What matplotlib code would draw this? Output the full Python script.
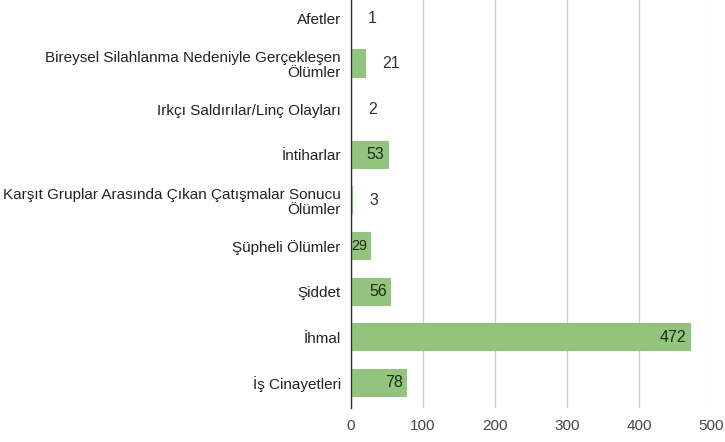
import matplotlib.pyplot as plt

# data
categories = ['Afetler',
              'Bireysel Silahlanma Nedeniyle Gerçekleşen\nÖlümler',
              'Irkçı Saldırılar/Linç Olayları',
              'İntiharlar',
              'Karşıt Gruplar Arasında Çıkan Çatışmalar Sonucu\nÖlümler',
              'Şüpheli Ölümler',
              'Şiddet',
              'İhmal',
              'İş Cinayetleri']
values = [1, 21, 2, 53, 3, 29, 56, 472, 78]
xticks = [0, 100, 200, 300, 400, 500]

plt.rcParams['font.family'] = ['Liberation Sans', 'DejaVu Sans']

fig = plt.figure(figsize=(7.25, 4.42), dpi=100)
ax = fig.add_axes([350.5/725, 1 - 408/442, (711 - 350.5)/725, 408/442])

bar_color = '#93c47d'
pos = list(range(len(categories)))
ax.barh(pos, values, height=0.62, color=bar_color, zorder=3)

ax.set_xlim(0, 500)
ax.set_ylim(8.55, -0.395)

ax.set_xticks(xticks)
ax.set_xticklabels([str(t) for t in xticks], fontsize=11, color='#444444')
ax.set_yticks(pos)
ax.set_yticklabels(categories, fontsize=11, color='#222222', linespacing=1.05)
ax.tick_params(axis='both', length=0)
ax.tick_params(axis='y', pad=7)
ax.tick_params(axis='x', pad=8)

ax.grid(axis='x', color='#cccccc', linewidth=1, zorder=0)
for s in ['top', 'right', 'bottom']:
    ax.spines[s].set_visible(False)
ax.spines['left'].set_color('#333333')
ax.spines['left'].set_linewidth(1)
ax.spines['left'].set_zorder(4)

# value labels: inside the bar if it is wide enough (shrunk to fit), otherwise after it
px_per_unit = (711 - 350.5) / 500
for i, v in enumerate(values):
    bar_px = v * px_per_unit
    if bar_px > 18:
        fs = min(11.5, (bar_px - 5) / (0.556 * len(str(v))) * 72 / 100)
        ax.annotate(str(v), (v, i), xytext=(-3, 0), textcoords='offset points',
                    ha='right', va='center', fontsize=fs, color='#1f2a1a', zorder=5)
    else:
        ax.annotate(str(v), (v, i), xytext=(12, 0), textcoords='offset points',
                    ha='left', va='center', fontsize=11.5, color='#333333', zorder=5)

fig.savefig('out.png', dpi=100)
